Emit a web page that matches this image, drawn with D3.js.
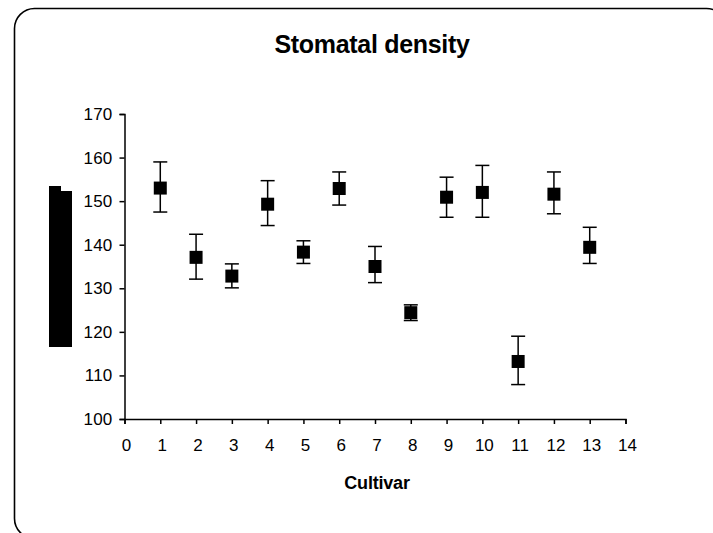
<!DOCTYPE html>
<html>
<head>
<meta charset="utf-8">
<script src="https://cdn.jsdelivr.net/npm/d3@7"></script>
<style>
  html, body { margin: 0; padding: 0; background: #fff; }
  svg { display: block; }
  text { font-family: "Liberation Sans", Arial, sans-serif; fill: #000; }
</style>
</head>
<body>
<svg id="chart" width="713" height="533"></svg>
<script>
const cultivars = [1, 2, 3, 4, 5, 6, 7, 8, 9, 10, 11, 12, 13];
const means = [153.0, 137.1, 132.8, 149.3, 138.3, 152.9, 135.0, 124.4, 150.9, 152.0, 113.2, 151.6, 139.4];
const upper = [159.0, 142.4, 135.6, 154.7, 140.9, 156.7, 139.6, 126.2, 155.5, 158.2, 119.0, 156.7, 144.0];
const lower = [147.5, 132.1, 130.1, 144.4, 135.7, 149.1, 131.3, 122.6, 146.3, 146.3, 107.9, 147.1, 135.7];
const xTicks = [0, 1, 2, 3, 4, 5, 6, 7, 8, 9, 10, 11, 12, 13, 14];
const yTicks = [100, 110, 120, 130, 140, 150, 160, 170];
const title = "Stomatal density";
const xTitle = "Cultivar";

const svg = d3.select("#chart");

// outer rounded frame
svg.append("rect")
  .attr("x", 14.5).attr("y", 8.5)
  .attr("width", 712).attr("height", 530)
  .attr("rx", 20).attr("ry", 20)
  .attr("fill", "none").attr("stroke", "#000").attr("stroke-width", 1.6);

const x = d3.scaleLinear().domain([0, 14]).range([124.5, 625.5]);
const y = d3.scaleLinear().domain([100, 170]).range([419, 114]);

// title
svg.append("text")
  .attr("x", 372).attr("y", 53)
  .attr("text-anchor", "middle")
  .attr("font-size", 25).attr("font-weight", "bold")
  .attr("letter-spacing", -0.3)
  .text(title);

// y axis
const yAxis = svg.append("g")
  .attr("transform", `translate(${x(0)},0)`)
  .call(d3.axisLeft(y).tickValues(yTicks).tickSize(5).tickPadding(7).tickFormat(d3.format("d")));
yAxis.selectAll("path, line").attr("stroke", "#000").attr("stroke-width", 1.5);
yAxis.selectAll("text").attr("font-size", 17).attr("font-family", "Liberation Sans, Arial, sans-serif").attr("letter-spacing", 0.2);

// x axis
const xAxis = svg.append("g")
  .attr("transform", `translate(0,${y(100)})`)
  .call(d3.axisBottom(x).tickValues(xTicks).tickSize(5).tickPadding(15).tickFormat(d3.format("d")));
xAxis.selectAll("path, line").attr("stroke", "#000").attr("stroke-width", 1.5);
xAxis.selectAll("text").attr("font-size", 17).attr("font-family", "Liberation Sans, Arial, sans-serif").attr("dx", 1.5);

// x axis title
svg.append("text")
  .attr("x", 377).attr("y", 489)
  .attr("text-anchor", "middle")
  .attr("font-size", 18).attr("font-weight", "bold")
  .attr("letter-spacing", -0.2)
  .text(xTitle);

// y axis title (rendered as a solid block in the reference)
const yTitle = svg.append("g");
yTitle.append("rect").attr("x", 49).attr("y", 186).attr("width", 12).attr("height", 161).attr("fill", "#000");
yTitle.append("rect").attr("x", 60).attr("y", 191).attr("width", 12).attr("height", 156).attr("fill", "#000");

const data = cultivars.map((c, i) => ({ c, m: means[i], hi: upper[i], lo: lower[i] }));

// error bars
const eb = svg.append("g").attr("stroke", "#000").attr("stroke-width", 1.5);
eb.selectAll("line.v").data(data).join("line").attr("class", "v")
  .attr("x1", d => x(d.c)).attr("x2", d => x(d.c))
  .attr("y1", d => y(d.hi)).attr("y2", d => y(d.lo));
eb.selectAll("line.t").data(data).join("line").attr("class", "t")
  .attr("x1", d => x(d.c) - 7).attr("x2", d => x(d.c) + 7)
  .attr("y1", d => y(d.hi)).attr("y2", d => y(d.hi));
eb.selectAll("line.b").data(data).join("line").attr("class", "b")
  .attr("x1", d => x(d.c) - 7).attr("x2", d => x(d.c) + 7)
  .attr("y1", d => y(d.lo)).attr("y2", d => y(d.lo));

// markers
svg.append("g").selectAll("rect").data(data).join("rect")
  .attr("x", d => x(d.c) - 6.5).attr("y", d => y(d.m) - 6.5)
  .attr("width", 13).attr("height", 13)
  .attr("fill", "#000");
</script>
</body>
</html>
